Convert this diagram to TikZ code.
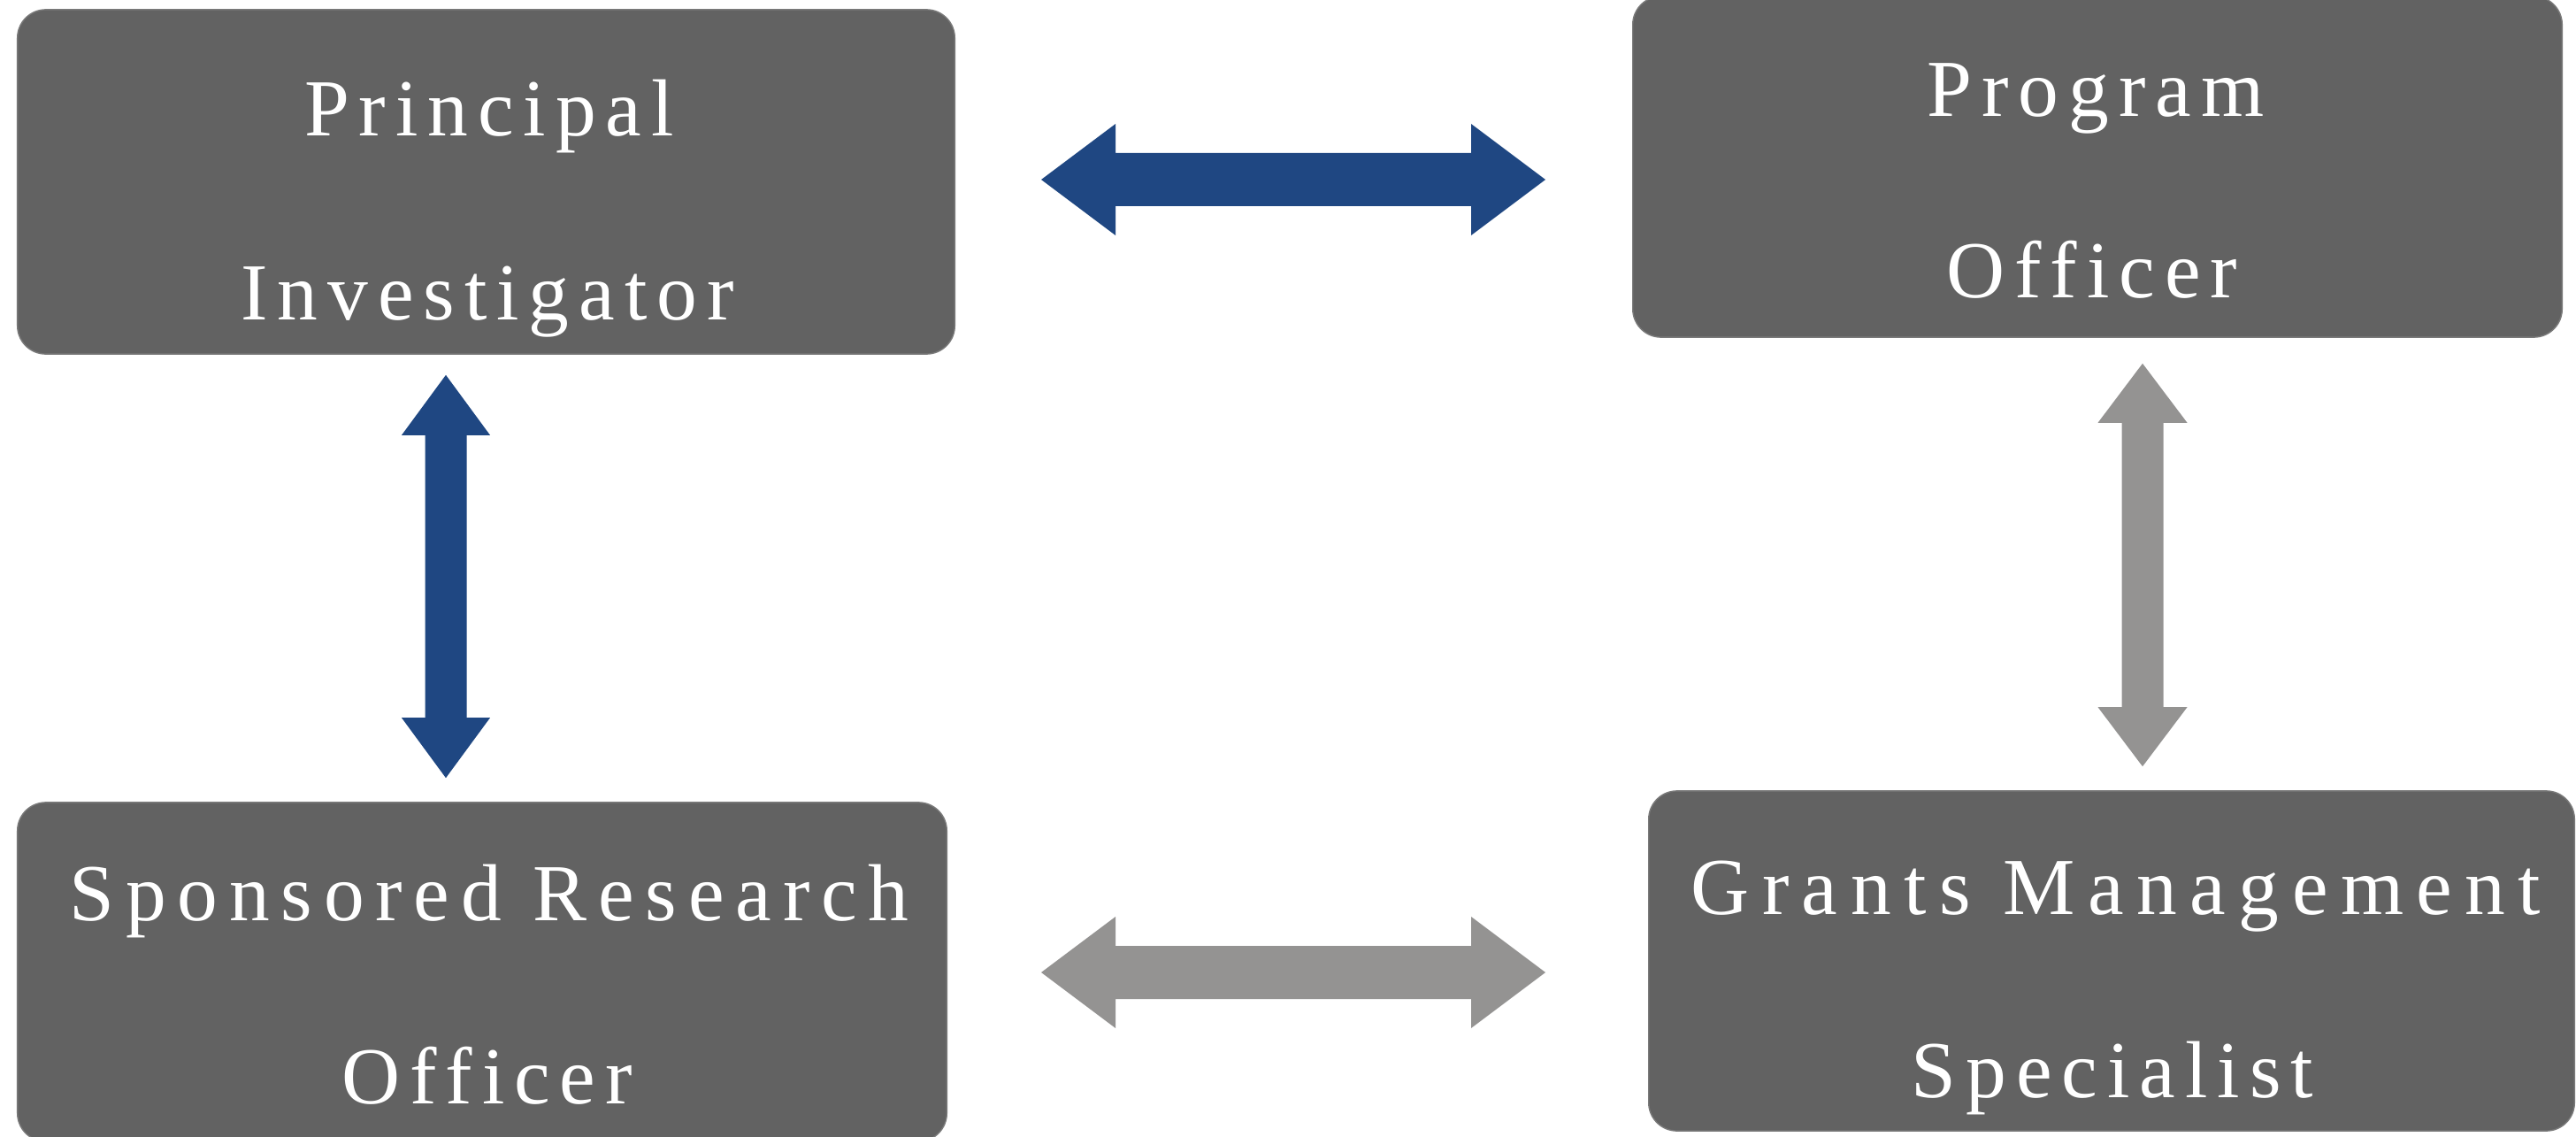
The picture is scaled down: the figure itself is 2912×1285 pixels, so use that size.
\documentclass[tikz,border=0pt]{standalone}
\usepackage{fontspec}
\setmainfont{Liberation Serif}[LetterSpace=12]
\newfontfamily\spfourteen{Liberation Serif}[LetterSpace=14]
\newfontfamily\spsixteen{Liberation Serif}[LetterSpace=15.8]
\usetikzlibrary{calc}
\definecolor{boxgray}{RGB}{98,98,98}
\definecolor{arrblue}{RGB}{31,71,130}
\definecolor{arrgray}{RGB}{148,147,146}
\tikzset{
  box/.style={rectangle, rounded corners=0.32cm, fill=boxgray, draw=boxgray!85!white, line width=0.4pt, inner sep=0pt},
  lbl/.style={anchor=base, text=white, inner sep=0pt, font=\fontsize{26}{30}\selectfont}
}
% horizontal double arrow between tips #1 (left) and #2 (right)
\newcommand\hdarrow[6]{%
  \fill[#6] (#1) -- ($(#1)+(#3,-#4)$) -- ($(#1)+(#3,-#5)$) -- ($(#2)+(-#3,-#5)$) -- ($(#2)+(-#3,-#4)$) -- (#2)
    -- ($(#2)+(-#3,#4)$) -- ($(#2)+(-#3,#5)$) -- ($(#1)+(#3,#5)$) -- ($(#1)+(#3,#4)$) -- cycle;}
% vertical double arrow between tips #1 (top) and #2 (bottom)
\newcommand\vdarrow[6]{%
  \fill[#6] (#1) -- ($(#1)+(#4,#3)$) -- ($(#1)+(#5,#3)$) -- ($(#2)+(#5,-#3)$) -- ($(#2)+(#4,-#3)$) -- (#2)
    -- ($(#2)+(-#4,-#3)$) -- ($(#2)+(-#5,-#3)$) -- ($(#1)+(-#5,#3)$) -- ($(#1)+(-#4,#3)$) -- cycle;}
\begin{document}
\begin{tikzpicture}[x=0.01cm, y=-0.01cm]
\useasboundingbox (0,0) rectangle (2912,1285);
\clip (0,0) rectangle (2912,1285);
\fill[white] (0,0) rectangle (2912,1285);

% boxes
\node[box, minimum width=10.59cm, minimum height=3.89cm] (pi) at (549.5,205.5) {};
\node[box, minimum width=10.50cm, minimum height=3.85cm] (po) at (2371,188.5) {};
\node[box, minimum width=10.50cm, minimum height=3.83cm] (sro) at (545,1098.5) {};
\node[box, minimum width=10.46cm, minimum height=3.84cm] (gms) at (2387,1086) {};

% labels
\node[lbl] (pi1) at (553,153) {Principal};
\node[lbl] (pi2) at (551,361) {Investigator};
\node[lbl] (po1) at (2369,132) {Program};
\node[lbl] (po2) at (2365,337) {Officer};
\node[lbl] (sro1) at (553,1040) {\spfourteen Sponsored Research};
\node[lbl] (sro2) at (551,1247) {Officer};
\node[lbl] (gms1) at (2392,1033) {\spsixteen Grants Management};
\node[lbl] (gms2) at (2388,1240) {Specialist};

% connector end points
\coordinate (tA) at ($(pi.east |- 0,203)+(97,0)$);
\coordinate (tB) at ($(po.west |- 0,203)+(-98,0)$);
\coordinate (bA) at ($(sro.east |- 0,1099)+(106,0)$);
\coordinate (bB) at ($(gms.west |- 0,1099)+(-116,0)$);
\coordinate (lA) at ($(pi.south -| 504,0)+(0,23)$);
\coordinate (lB) at ($(sro.north -| 504,0)+(0,-27)$);
\coordinate (rA) at ($(po.south -| 2422,0)+(0,29)$);
\coordinate (rB) at ($(gms.north -| 2422,0)+(0,-27)$);

% connectors
\hdarrow{tA}{tB}{84}{63}{30}{arrblue}
\hdarrow{bA}{bB}{84}{63}{30}{arrgray}
\vdarrow{lA}{lB}{68}{50}{23.5}{arrblue}
\vdarrow{rA}{rB}{67}{50.5}{23.5}{arrgray}
\end{tikzpicture}
\end{document}
